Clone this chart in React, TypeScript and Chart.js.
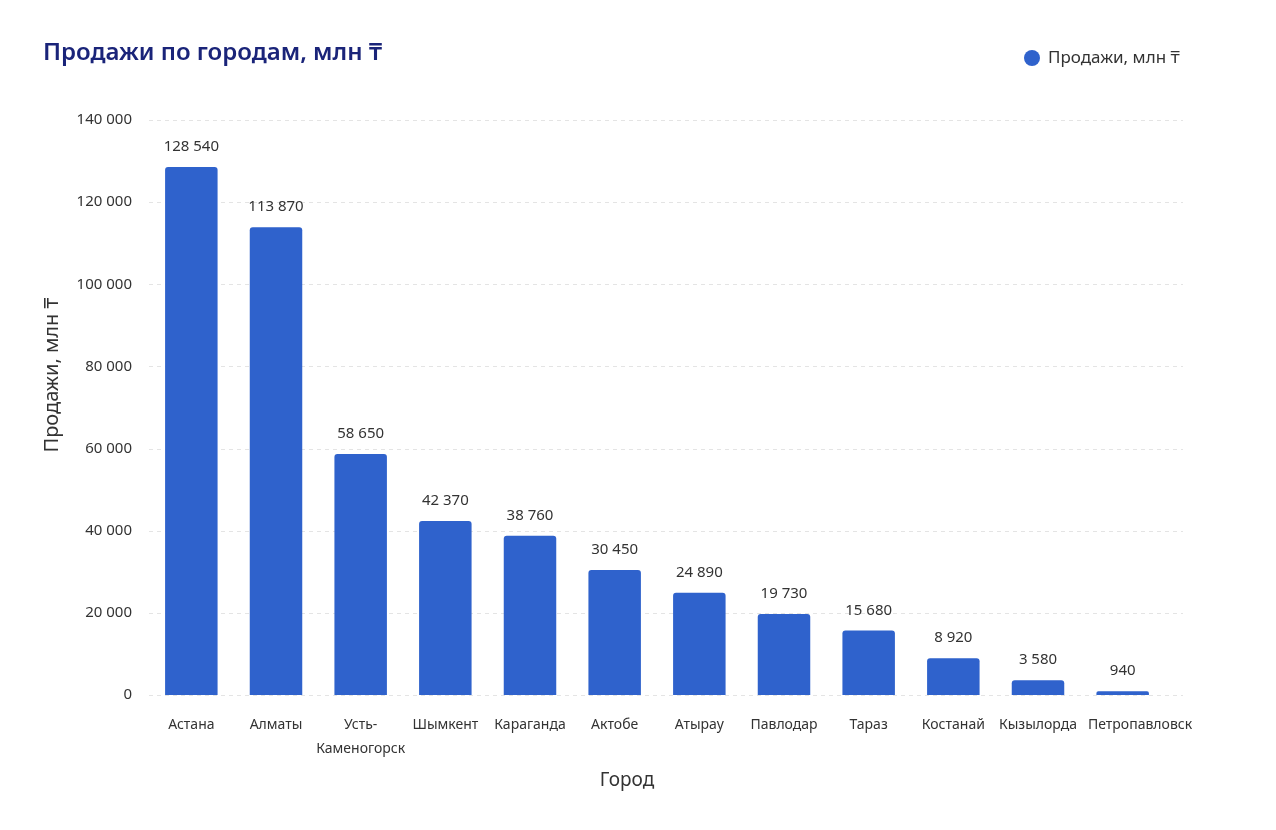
import React, { useRef, useEffect } from "react";
import { Chart, registerables } from "chart.js";

Chart.register(...registerables);

const chartTitle = "Продажи по городам, млн ₸";
const seriesLabel = "Продажи, млн ₸";
const xTitle = "Город";
const yTitle = "Продажи, млн ₸";

const cities: (string | string[])[] = [
  "Астана",
  "Алматы",
  ["Усть-", "Каменогорск"],
  "Шымкент",
  "Караганда",
  "Актобе",
  "Атырау",
  "Павлодар",
  "Тараз",
  "Костанай",
  "Кызылорда",
  "Петропавловск",
];
const sales = [128540, 113870, 58650, 42370, 38760, 30450, 24890, 19730, 15680, 8920, 3580, 940];
const yMax = 140000;
const yStep = 20000;

const BAR_COLOR = "#2f62cc";
const FONT = "'Noto Sans', sans-serif";

// разделитель тысяч — пробел, как на картинке
const fmt = (v: number) => String(v).replace(/\B(?=(\d{3})+(?!\d))/g, " ");

const overlay = {
  id: "overlay",
  beforeDatasetsDraw(chart: any) {
    const { ctx, chartArea } = chart;
    const y = chart.scales.y;
    ctx.save();
    ctx.strokeStyle = "#e4e4e4";
    ctx.lineWidth = 1;
    ctx.setLineDash([4, 4]);
    y.ticks.forEach((t: any) => {
      const py = Math.round(y.getPixelForValue(t.value)) + 0.5;
      ctx.beginPath();
      ctx.moveTo(chartArea.left, py);
      ctx.lineTo(chartArea.right + 18, py);
      ctx.stroke();
    });
    ctx.restore();
  },
  afterDatasetsDraw(chart: any) {
    const { ctx, chartArea } = chart;
    const meta = chart.getDatasetMeta(0);
    const values = chart.data.datasets[0].data as number[];
    ctx.save();
    ctx.font = `15px ${FONT}`;
    ctx.fillStyle = "#333333";
    ctx.textAlign = "center";
    ctx.textBaseline = "alphabetic";
    meta.data.forEach((bar: any, i: number) => {
      ctx.fillText(fmt(values[i]), bar.x, bar.y - 16);
    });

    // подписи категорий: сдвигаем вправо, если наезжают на соседнюю
    const x = chart.scales.x;
    ctx.font = `14px ${FONT}`;
    ctx.textBaseline = "middle";
    let prevRight = -Infinity;
    (chart.data.labels as (string | string[])[]).forEach((lab, i) => {
      const lines = Array.isArray(lab) ? lab : [lab];
      const w = Math.max(...lines.map((s) => ctx.measureText(s).width));
      let cx = x.getPixelForTick(i);
      if (cx - w / 2 < prevRight + 4) cx = prevRight + 11 + w / 2;
      lines.forEach((s, k) => ctx.fillText(s, cx, chartArea.bottom + 30 + k * 24));
      prevRight = cx + w / 2;
    });
    ctx.restore();
  },
  afterDraw(chart: any) {
    const { ctx } = chart;
    ctx.save();
    // заголовок
    ctx.font = `600 24px ${FONT}`;
    ctx.fillStyle = "#1a2479";
    ctx.textAlign = "left";
    ctx.textBaseline = "middle";
    ctx.fillText(chartTitle, 35, 45);

    // легенда
    ctx.beginPath();
    ctx.arc(1024, 50, 8, 0, Math.PI * 2);
    ctx.fillStyle = chart.data.datasets[0].backgroundColor;
    ctx.fill();
    ctx.font = `17px ${FONT}`;
    ctx.fillStyle = "#333333";
    ctx.fillText(chart.data.datasets[0].label, 1040, 50);

    // подписи осей
    ctx.font = `19px ${FONT}`;
    ctx.textAlign = "center";
    ctx.fillText(xTitle, 619, 773);
    ctx.font = `20px ${FONT}`;
    ctx.translate(44, 367);
    ctx.rotate(-Math.PI / 2);
    ctx.fillText(yTitle, 0, 0);
    ctx.restore();
  },
};

const App: React.FC = () => {
  const canvasRef = useRef<HTMLCanvasElement>(null);
  const chartInstance = useRef<Chart | null>(null);

  useEffect(() => {
    if (!canvasRef.current) return;
    if (chartInstance.current) chartInstance.current.destroy();

    chartInstance.current = new Chart(canvasRef.current, {
      type: "bar",
      data: {
        labels: cities,
        datasets: [
          {
            label: seriesLabel,
            data: sales,
            backgroundColor: BAR_COLOR,
            borderRadius: 3,
            borderSkipped: "bottom",
            categoryPercentage: 1,
            barPercentage: 0.62,
          },
        ],
      },
      options: {
        animation: false,
        responsive: true,
        maintainAspectRatio: false,
        layout: { padding: { top: 112, right: 103, left: 0, bottom: 0 } },
        plugins: {
          legend: { display: false },
          title: { display: false },
          tooltip: { enabled: false },
        },
        scales: {
          x: {
            grid: { display: false },
            border: { display: false },
            ticks: { display: false },
            afterFit: (scale: any) => {
              scale.height = 123;
            },
          },
          y: {
            min: 0,
            max: yMax,
            grid: { display: false },
            border: { display: false },
            ticks: {
              stepSize: yStep,
              color: "#333333",
              font: { family: FONT, size: 15 },
              padding: 9,
              callback: (v: any) => fmt(Number(v)),
            },
            afterFit: (scale: any) => {
              scale.width = 141;
            },
          },
        },
      },
      plugins: [overlay],
    });

    return () => {
      if (chartInstance.current) {
        chartInstance.current.destroy();
        chartInstance.current = null;
      }
    };
  }, []);

  return (
    <div style={{ position: "relative", width: 1260, height: 810, background: "#ffffff" }}>
      <canvas ref={canvasRef} />
    </div>
  );
};

export default App;
